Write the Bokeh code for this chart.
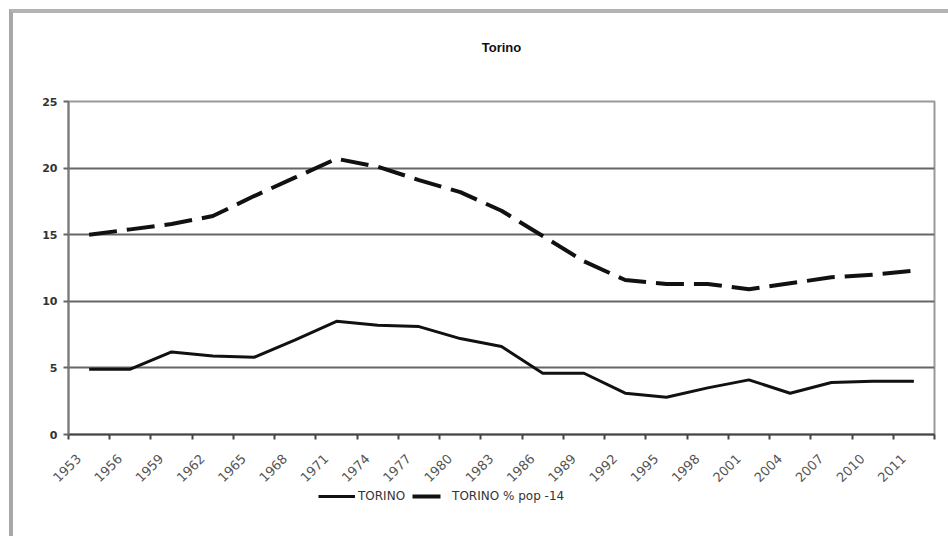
from bokeh.plotting import figure
from bokeh.models import Range1d, FixedTicker, Legend, LegendItem, Spacer, Label
from bokeh.layouts import column, row
from bokeh.embed import file_html
from bokeh.resources import INLINE

years = ["1953", "1956", "1959", "1962", "1965", "1968", "1971", "1974", "1977", "1980",
         "1983", "1986", "1989", "1992", "1995", "1998", "2001", "2004", "2007", "2010", "2011"]
torino = [4.9, 4.9, 6.2, 5.9, 5.8, 7.1, 8.5, 8.2, 8.1, 7.2,
          6.6, 4.6, 4.6, 3.1, 2.8, 3.5, 4.1, 3.1, 3.9, 4.0, 4.0]
torino_pop14 = [15.0, 15.4, 15.8, 16.4, 17.9, 19.3, 20.7, 20.1, 19.1, 18.2,
                16.8, 14.9, 13.0, 11.6, 11.3, 11.3, 10.9, 11.35, 11.8, 12.0, 12.3]
y_ticks = [0, 5, 10, 15, 20, 25]
series_names = ["TORINO", "TORINO % pop -14"]
chart_title = "Torino"

idx = list(range(len(years)))
W = 935


def blank(fig):
    fig.axis.visible = False
    fig.grid.visible = False
    fig.outline_line_color = None
    fig.background_fill_color = "white"
    fig.border_fill_color = "white"


# ---- title strip ----
hd = figure(width=W, height=78, output_backend="svg", toolbar_location=None,
            x_range=Range1d(0, 1), y_range=Range1d(0, 1),
            min_border=0, min_border_left=0, min_border_right=0,
            min_border_top=0, min_border_bottom=0)
blank(hd)
hd.add_layout(Label(x=0.5, y=44, y_units="screen", text=chart_title,
                    text_align="center", text_baseline="middle",
                    text_font="Liberation Sans", text_font_size="13px",
                    text_font_style="bold", text_color="#111111"))

# ---- main chart ----
p = figure(width=W, height=398, output_backend="svg", toolbar_location=None,
           x_range=Range1d(-0.5, len(years) - 0.5), y_range=Range1d(0, 25),
           min_border_left=55, min_border_right=14,
           min_border_top=10, min_border_bottom=54)
p.background_fill_color = "white"
p.border_fill_color = "white"
p.outline_line_color = "#9a9a9a"
p.outline_line_width = 2

label_pos = [i - 0.25 for i in idx]
p.xaxis.ticker = FixedTicker(ticks=label_pos, minor_ticks=[i - 0.5 for i in range(len(years) + 1)])
p.xaxis.major_label_overrides = {pos: y for pos, y in zip(label_pos, years)}
p.xaxis.major_tick_out = 0
p.xaxis.major_tick_in = 0
p.xaxis.minor_tick_out = 5
p.xaxis.minor_tick_in = 0
p.xaxis.minor_tick_line_color = "#444444"
p.xaxis.minor_tick_line_width = 2
p.xaxis.axis_line_color = "#444444"
p.xaxis.axis_line_width = 2
p.xaxis.major_label_orientation = 0.785398
p.xaxis.major_label_text_font = "DejaVu Sans"
p.xaxis.major_label_text_font_size = "13px"
p.xaxis.major_label_text_color = "#555555"
p.xaxis.major_label_standoff = 17

p.yaxis.ticker = FixedTicker(ticks=y_ticks)
p.yaxis.minor_tick_line_color = None
p.yaxis.major_tick_out = 5
p.yaxis.major_tick_in = 0
p.yaxis.major_tick_line_color = "#666666"
p.yaxis.major_tick_line_width = 2
p.yaxis.axis_line_color = "#7a7a7a"
p.yaxis.axis_line_width = 2
p.yaxis.major_label_text_font = "DejaVu Sans"
p.yaxis.major_label_text_font_size = "11px"
p.yaxis.major_label_text_font_style = "bold"
p.yaxis.major_label_text_color = "#333333"
p.yaxis.major_label_standoff = 6

p.xgrid.grid_line_color = None
p.ygrid.ticker = FixedTicker(ticks=y_ticks[1:])
p.ygrid.grid_line_color = "#666666"
p.ygrid.grid_line_width = 2

p.line(idx, torino, line_color="#111111", line_width=3)
p.line(idx, torino_pop14, line_color="#111111", line_width=4, line_dash="28 10")

# ---- legend strip ----
lg = figure(width=W, height=47, output_backend="svg", toolbar_location=None,
            x_range=Range1d(100, 101), y_range=Range1d(100, 101),
            min_border=0, min_border_left=0, min_border_right=0,
            min_border_top=0, min_border_bottom=0)
blank(lg)
s1 = lg.line(idx, torino, line_color="#111111", line_width=3)
s2 = lg.line(idx, torino_pop14, line_color="#111111", line_width=4, line_dash="28 10")

legend = Legend(items=[LegendItem(label=series_names[0], renderers=[s1]),
                       LegendItem(label=series_names[1], renderers=[s2])],
                orientation="horizontal", location=(250, 33))
legend.glyph_width = 37
legend.glyph_height = 14
legend.label_height = 14
legend.label_standoff = 3
legend.spacing = 7
legend.padding = 0
legend.margin = 0
legend.border_line_color = None
legend.background_fill_alpha = 0
legend.label_text_font = "DejaVu Sans"
legend.label_text_font_size = "12px"
legend.label_text_color = "#333333"
lg.add_layout(legend, "center")

inner = column(hd, p, lg, spacing=0)
inner.styles = {"border-top": "4px solid #b4b4b4", "border-left": "4px solid #a8a8a8"}
layout = column(Spacer(height=9), row(Spacer(width=9), inner, spacing=0), spacing=0)

open("out.html", "w").write(file_html(layout, INLINE))
